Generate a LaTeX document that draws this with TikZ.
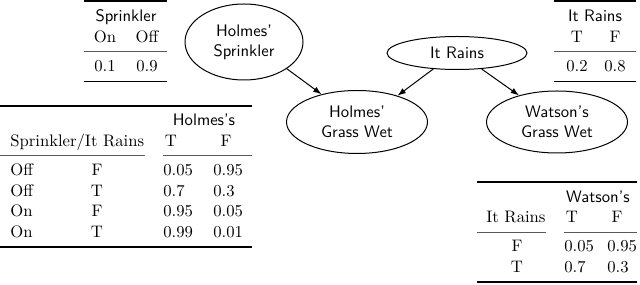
\documentclass[tikz,border=0pt]{standalone}
\usepackage{fontspec}
\usetikzlibrary{shapes.geometric,arrows.meta}
\begin{document}
\begin{tikzpicture}[x=0.6pt,y=-0.6pt,
  cell/.style={inner sep=0pt,anchor=base,font=\rmfamily},
  lcell/.style={inner sep=0pt,anchor=base west,font=\rmfamily},
  head/.style={inner sep=0pt,anchor=base,font=\sffamily},
  heavyrule/.style={line width=1.0pt},
  lightrule/.style={line width=0.55pt,black!65},
  bnode/.style={draw,ellipse,inner sep=0pt,line width=0.6pt,font=\sffamily,align=center},
  link/.style={-{Latex[length=5pt,width=3.6pt]},line width=0.6pt}]
\useasboundingbox (0,0) rectangle (640,285);

% Sprinkler table
\draw[heavyrule] (84,1.2) -- (167,1.2);
\node[head] (sh) at (126,21.6) {Sprinkler};
\node[cell] (son) at (105,42.3) {On};
\node[cell] (soff) at (147,42.3) {Off};
\draw[lightrule] (84,51.9) -- (167,51.9);
\node[cell] (sv1) at (105,71.6) {0.1};
\node[cell] (sv2) at (147,71.6) {0.9};
\draw[heavyrule] (84,81.4) -- (167,81.4);

% It Rains table
\draw[heavyrule] (554,1.2) -- (636,1.2);
\node[head] (rh) at (595,21.6) {It Rains};
\node[cell] (rt) at (577,42.3) {T};
\node[cell] (rf) at (615,42.3) {F};
\draw[lightrule] (554,51.9) -- (636,51.9);
\node[cell] (rv1) at (577,71.6) {0.2};
\node[cell] (rv2) at (615,71.6) {0.8};
\draw[heavyrule] (554,81.4) -- (636,81.4);

% Network
\node[bnode,minimum width=70.8pt,minimum height=45.6pt] (hs) at (244,42) {Holmes'\\Sprinkler};
\node[bnode,minimum width=84pt,minimum height=19.8pt] (ir) at (457,53) {It Rains};
\node[bnode,minimum width=84.6pt,minimum height=37.8pt] (hg) at (357,122) {Holmes'\\Grass Wet};
\node[bnode,minimum width=84.6pt,minimum height=37.2pt] (wg) at (557,122) {Watson's\\Grass Wet};

\draw[link] (hs.-32) -- (hg.142);
\draw[link] (ir.214) -- (hg.33);
\draw[link] (ir.-33) -- (wg.145);

% Holmes table
\draw[heavyrule] (0,105.7) -- (252,105.7);
\node[head] (hh) at (204,125.6) {Holmes's};
\node[lcell] (hc1) at (10,146.3) {Sprinkler/It Rains};
\node[cell] (ht) at (171,146.3) {T};
\node[cell] (hf) at (226,146.3) {F};
\draw[lightrule] (0,155.7) -- (145,155.7);
\draw[lightrule] (163,155.7) -- (252,155.7);
\node[lcell] (h1a) at (10,175.5) {Off};
\node[cell] (h1b) at (97,175.5) {F};
\node[lcell] (h1c) at (163,175.5) {0.05};
\node[lcell] (h1d) at (213,175.5) {0.95};
\node[lcell] (h2a) at (10,196.2) {Off};
\node[cell] (h2b) at (97,196.2) {T};
\node[lcell] (h2c) at (163,196.2) {0.7};
\node[lcell] (h2d) at (213,196.2) {0.3};
\node[lcell] (h3a) at (10,216.8) {On};
\node[cell] (h3b) at (97,216.8) {F};
\node[lcell] (h3c) at (163,216.8) {0.95};
\node[lcell] (h3d) at (213,216.8) {0.05};
\node[lcell] (h4a) at (10,237.4) {On};
\node[cell] (h4b) at (97,237.4) {T};
\node[lcell] (h4c) at (163,237.4) {0.99};
\node[lcell] (h4d) at (213,237.4) {0.01};
\draw[heavyrule] (0,246.9) -- (252,246.9);

% Watson table
\draw[heavyrule] (477,182.2) -- (637,182.2);
\node[head] (wh) at (598,202.1) {Watson's};
\node[cell] (wc1) at (516,222.8) {It Rains};
\node[cell] (wt) at (572,222.8) {T};
\node[cell] (wf) at (617,222.8) {F};
\draw[lightrule] (477,232.2) -- (546,232.2);
\draw[lightrule] (564,232.2) -- (637,232.2);
\node[cell] (w1a) at (517,252) {F};
\node[lcell] (w1b) at (564,252) {0.05};
\node[lcell] (w1c) at (607,252) {0.95};
\node[cell] (w2a) at (517,272.3) {T};
\node[lcell] (w2b) at (564,272.3) {0.7};
\node[lcell] (w2c) at (607,272.3) {0.3};
\draw[heavyrule] (477,282.2) -- (637,282.2);
\end{tikzpicture}
\end{document}
